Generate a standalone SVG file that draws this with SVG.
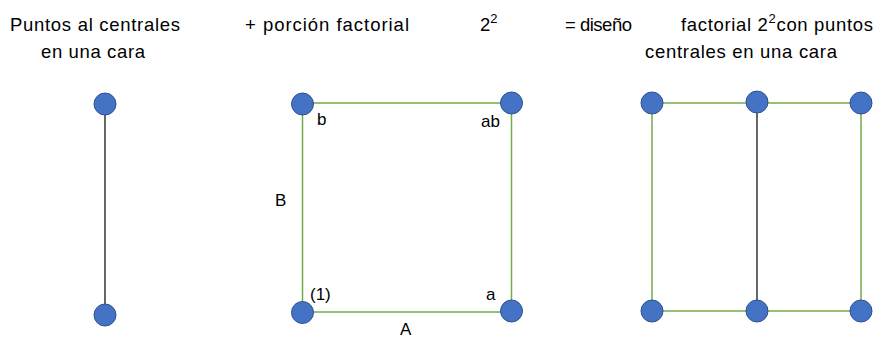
<svg xmlns="http://www.w3.org/2000/svg" width="885" height="339" viewBox="0 0 885 339">
<style>
text{font-family:"Liberation Sans",Arial,sans-serif;font-size:17px;fill:#000}
.t{font-size:18.5px}
.pt{fill:#4472C4;stroke:#2F528F;stroke-width:1}
.g{stroke:#70AD47;stroke-width:1.5;fill:none}
.k{stroke:#000;stroke-width:1.2;fill:none}
</style>
<rect width="885" height="339" fill="#fff"/>
<g id="titles">
<text class="t" x="10" y="31" textLength="170">Puntos al centrales</text>
<text class="t" x="41" y="58" textLength="104">en una cara</text>
<text class="t" x="245" y="31" textLength="164">+ porción factorial</text>
<text class="t" x="480" y="31">2<tspan dy="-8" font-size="13">2</tspan></text>
<text class="t" x="565" y="31" textLength="67">= diseño</text>
<text class="t" x="681" y="31" textLength="192">factorial 2<tspan dy="-8" font-size="13">2</tspan><tspan dy="8">con puntos</tspan></text>
<text class="t" x="645" y="58" textLength="192">centrales en una cara</text>
</g>
<g id="connectors">
<line class="k" x1="105" y1="104" x2="105" y2="315"/>
<rect class="g" x="302.5" y="103" width="209" height="209"/>
<line class="g" x1="652" y1="103" x2="861" y2="103"/>
<line class="g" x1="652" y1="311" x2="861" y2="311"/>
<line class="g" x1="652" y1="103" x2="652" y2="311"/>
<line class="g" x1="861" y1="103" x2="861" y2="311"/>
<line class="k" x1="757" y1="102" x2="757" y2="311"/>
</g>
<g id="labels">
<text x="317" y="125">b</text>
<text x="481" y="127">ab</text>
<text x="275" y="206">B</text>
<text x="310" y="300">(1)</text>
<text x="486" y="300">a</text>
<text x="400" y="335">A</text>
</g>
<g id="left-top"><circle class="pt" cx="105" cy="104" r="11"/></g>
<g id="left-bottom"><circle class="pt" cx="105" cy="315" r="11"/></g>
<g id="f-1"><circle class="pt" cx="302.5" cy="312.5" r="11"/></g>
<g id="f-a"><circle class="pt" cx="511.5" cy="311" r="11"/></g>
<g id="f-b"><circle class="pt" cx="302.5" cy="104" r="11"/></g>
<g id="f-ab"><circle class="pt" cx="511.5" cy="103" r="11"/></g>
<g id="r-tl"><circle class="pt" cx="652" cy="103" r="11"/></g>
<g id="r-tm"><circle class="pt" cx="757" cy="102" r="11"/></g>
<g id="r-tr"><circle class="pt" cx="861" cy="103" r="11"/></g>
<g id="r-bl"><circle class="pt" cx="652" cy="311" r="11"/></g>
<g id="r-bm"><circle class="pt" cx="757" cy="311" r="11"/></g>
<g id="r-br"><circle class="pt" cx="861" cy="311" r="11"/></g>
</svg>
